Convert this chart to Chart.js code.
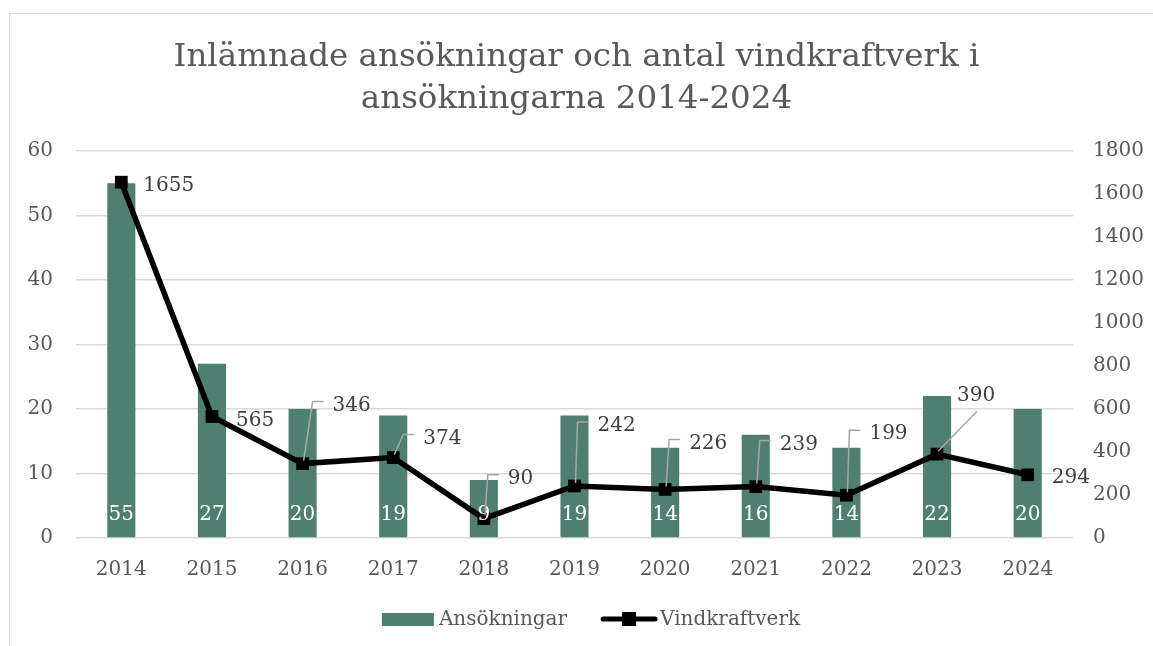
<!DOCTYPE html>
<html>
<head>
<meta charset="utf-8">
<script src="https://cdn.jsdelivr.net/npm/chart.js@4"></script>
<style>
  html, body { margin: 0; padding: 0; background: #fff; }
  #wrap { position: relative; width: 1153px; height: 646px; }
  #frame { position: absolute; left: 9px; top: 13px; right: 0; bottom: 0;
           border-left: 1px solid #d9d9d9; border-top: 1px solid #d9d9d9; }
  #chart { position: absolute; left: 0; top: 0; }
</style>
</head>
<body>
<div id="wrap">
  <div id="frame"></div>
  <canvas id="chart" width="1153" height="646"></canvas>
</div>
<script>
const years = ['2014', '2015', '2016', '2017', '2018', '2019', '2020', '2021', '2022', '2023', '2024'];
const ansokningar = [55, 27, 20, 19, 9, 19, 14, 16, 14, 22, 20];
const vindkraftverk = [1655, 565, 346, 374, 90, 242, 226, 239, 199, 390, 294];
const seriesNames = ['Ansökningar', 'Vindkraftverk'];

// label placement for the line series: [dx, dy, leader]
const lineLabelPos = [
    [22, 4, 'none'], [24, 4, 'none'], [30, -58, 'elbow'], [30, -19, 'elbow'],
    [24, -40, 'elbow'], [23, -60, 'elbow'], [24, -46, 'elbow'], [24, -42, 'elbow'],
    [23, -61, 'elbow'], [20, -58, 'diag'], [24, 3, 'none']
];

const FONT = "'DejaVu Serif', serif";
const barColor = '#4e7f71';
const textColor = '#595959';

const valueLabels = {
    id: 'valueLabels',
    afterDatasetsDraw(chart) {
        const ctx = chart.ctx;
        ctx.save();
        ctx.font = '20px ' + FONT;
        ctx.textBaseline = 'middle';

        // bar labels, white at the foot of each bar
        ctx.fillStyle = '#ffffff';
        ctx.textAlign = 'center';
        chart.getDatasetMeta(0).data.forEach((bar, i) => {
            ctx.fillText(String(ansokningar[i]), bar.x, bar.base - 22);
        });

        // line labels with leader lines
        ctx.textAlign = 'left';
        chart.getDatasetMeta(1).data.forEach((pt, i) => {
            const [dx, dy, leader] = lineLabelPos[i];
            const lx = pt.x + dx, cy = pt.y + dy;
            ctx.strokeStyle = '#a6a6a6';
            ctx.lineWidth = 1.5;
            if (leader === 'elbow') {
                ctx.beginPath();
                ctx.moveTo(pt.x + 1, pt.y - 3);
                ctx.lineTo(lx - 20, cy - 4);
                ctx.lineTo(lx - 9, cy - 4);
                ctx.stroke();
            } else if (leader === 'diag') {
                ctx.beginPath();
                ctx.moveTo(pt.x + 1, pt.y - 3);
                ctx.lineTo(lx + 20, cy + 15);
                ctx.stroke();
            }
            ctx.fillStyle = '#404040';
            ctx.fillText(String(vindkraftverk[i]), lx, cy);
        });
        ctx.restore();
    },
    afterDraw(chart) {
        // legend below the axis
        const ctx = chart.ctx;
        ctx.save();
        ctx.font = '20px ' + FONT;
        ctx.textBaseline = 'middle';
        ctx.textAlign = 'left';
        const w1 = ctx.measureText(seriesNames[0]).width;
        const w2 = ctx.measureText(seriesNames[1]).width;
        const total = 52 + 5 + w1 + 34 + 56 + 3 + w2;
        let x = 591 - total / 2;
        const y = 620;
        ctx.fillStyle = barColor;
        ctx.fillRect(x, y - 7, 52, 13);
        x += 57;
        ctx.fillStyle = textColor;
        ctx.fillText(seriesNames[0], x, y);
        x += w1 + 34;
        ctx.strokeStyle = '#000';
        ctx.lineWidth = 5;
        ctx.lineCap = 'round';
        ctx.beginPath(); ctx.moveTo(x + 2, y - 1); ctx.lineTo(x + 54, y - 1); ctx.stroke();
        ctx.fillStyle = '#000';
        ctx.fillRect(x + 21, y - 8, 14, 14);
        x += 59;
        ctx.fillStyle = textColor;
        ctx.fillText(seriesNames[1], x, y);
        ctx.restore();
    }
};

const ctx = document.getElementById('chart').getContext('2d');
const chart = new Chart(ctx, {
    type: 'bar',
    data: {
        labels: years,
        datasets: [{
            type: 'bar',
            label: seriesNames[0],
            data: ansokningar,
            backgroundColor: barColor,
            borderWidth: 0,
            barPercentage: 0.31,
            categoryPercentage: 1,
            yAxisID: 'y',
            order: 2
        }, {
            type: 'line',
            label: seriesNames[1],
            data: vindkraftverk,
            borderColor: '#000000',
            backgroundColor: '#000000',
            borderWidth: 5.5,
            pointStyle: 'rect',
            pointRadius: 9,
            pointBorderWidth: 0,
            tension: 0,
            yAxisID: 'y1',
            order: 1
        }]
    },
    options: {
        responsive: false,
        animation: false,
        devicePixelRatio: 1,
        layout: { padding: { left: 0, right: 0, top: 0, bottom: 64 } },
        plugins: {
            title: {
                display: true,
                text: ['Inlämnade ansökningar och antal vindkraftverk i', 'ansökningarna 2014-2024'],
                color: textColor,
                font: { family: FONT, size: 32.5, weight: 'normal', lineHeight: 42 / 32.5 },
                padding: { top: 37, bottom: 30 }
            },
            legend: { display: false },
            tooltip: { enabled: false }
        },
        scales: {
            x: {
                grid: { display: false, drawTicks: false },
                border: { display: false },
                ticks: { color: textColor, font: { family: FONT, size: 20 }, padding: 20 },
                afterFit: s => { s.height = 44; }
            },
            y: {
                position: 'left',
                min: 0,
                max: 60,
                ticks: { stepSize: 10, color: textColor, font: { family: FONT, size: 20 }, padding: 23 },
                grid: { color: '#d9d9d9', lineWidth: 1.5, drawTicks: false },
                border: { display: false },
                afterFit: s => { s.width = 76; }
            },
            y1: {
                position: 'right',
                min: 0,
                max: 1800,
                ticks: {
                    stepSize: 200, color: textColor, font: { family: FONT, size: 20 }, padding: 20,
                    callback: v => String(v)
                },
                grid: { display: false, drawTicks: false },
                border: { display: false },
                afterFit: s => { s.width = 80; }
            }
        }
    },
    plugins: [valueLabels]
});
</script>
</body>
</html>
